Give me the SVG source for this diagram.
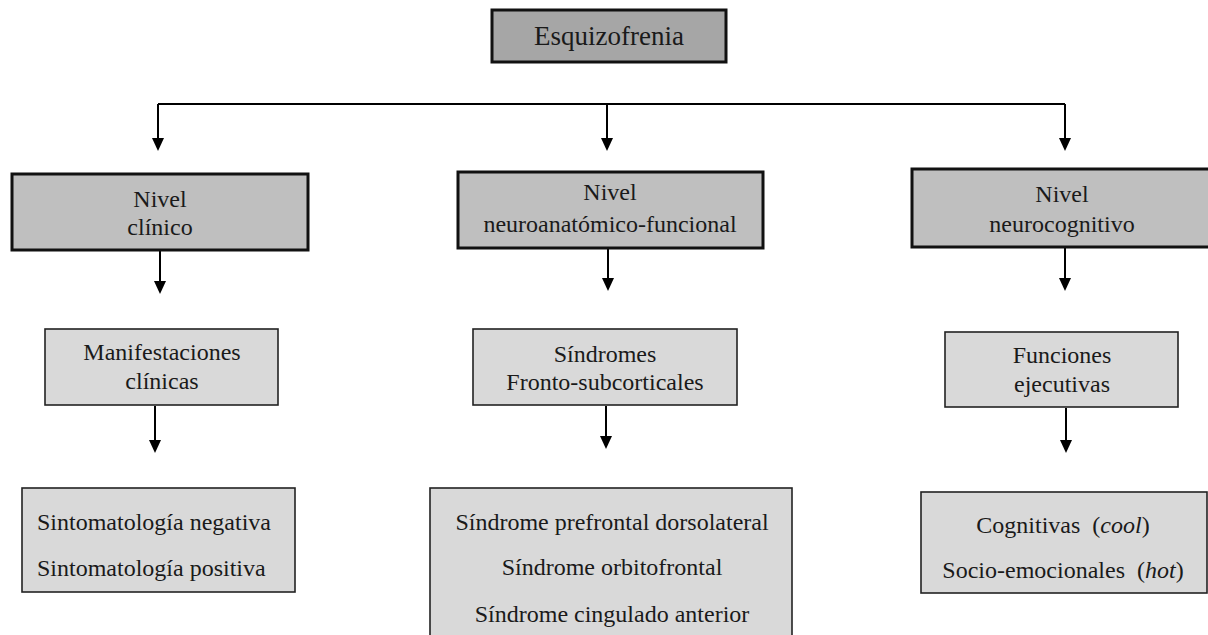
<svg xmlns="http://www.w3.org/2000/svg" width="1208" height="635" viewBox="0 0 1208 635">
  <rect width="1208" height="635" fill="#fff"/>

  <!-- connectors: lines plus filled arrowheads -->
  <g id="connectors">
    <g fill="none" stroke="#000" stroke-width="2">
      <path d="M158,104 H1065"/>
      <path d="M158,104 V140"/>
      <path d="M607,104 V140"/>
      <path d="M1065,104 V140"/>
      <path d="M160,251 V283"/>
      <path d="M608,249 V280"/>
      <path d="M1065,248 V280"/>
      <path d="M155,406 V442"/>
      <path d="M606,406 V438"/>
      <path d="M1066,408 V442"/>
    </g>
    <g fill="#000">
      <polygon points="152,138 164,138 158,151"/>
      <polygon points="601,138 613,138 607,151"/>
      <polygon points="1059,138 1071,138 1065,151"/>
      <polygon points="154,281 166,281 160,294"/>
      <polygon points="602,278 614,278 608,291"/>
      <polygon points="1059,278 1071,278 1065,291"/>
      <polygon points="149,440 161,440 155,453"/>
      <polygon points="600,436 612,436 606,449"/>
      <polygon points="1060,440 1072,440 1066,453"/>
    </g>
  </g>

  <!-- root -->
  <g id="esquizofrenia">
    <rect x="492" y="10" width="234" height="52" fill="#a6a6a6" stroke="#111" stroke-width="3"/>
    <text x="609" y="45" font-family="Liberation Serif" font-size="27" fill="#1a1a1a" text-anchor="middle">Esquizofrenia</text>
  </g>

  <!-- levels -->
  <g id="nivel-clinico">
    <rect x="12" y="174" width="296" height="76" fill="#bfbfbf" stroke="#111" stroke-width="3"/>
    <text x="160" y="207" font-family="Liberation Serif" font-size="24" fill="#1a1a1a" text-anchor="middle">Nivel</text>
    <text x="160" y="235" font-family="Liberation Serif" font-size="24" fill="#1a1a1a" text-anchor="middle">cl&#237;nico</text>
  </g>
  <g id="nivel-neuroanatomico">
    <rect x="458" y="172" width="305" height="76" fill="#bfbfbf" stroke="#111" stroke-width="3"/>
    <text x="610" y="200" font-family="Liberation Serif" font-size="24" fill="#1a1a1a" text-anchor="middle">Nivel</text>
    <text x="610" y="232" font-family="Liberation Serif" font-size="24" fill="#1a1a1a" text-anchor="middle">neuroanat&#243;mico-funcional</text>
  </g>
  <g id="nivel-neurocognitivo">
    <rect x="912" y="169" width="300" height="78" fill="#bfbfbf" stroke="#111" stroke-width="3"/>
    <text x="1062" y="202" font-family="Liberation Serif" font-size="24" fill="#1a1a1a" text-anchor="middle">Nivel</text>
    <text x="1062" y="232" font-family="Liberation Serif" font-size="24" fill="#1a1a1a" text-anchor="middle">neurocognitivo</text>
  </g>

  <!-- second tier -->
  <g id="manifestaciones">
    <rect x="45" y="329" width="233" height="76" fill="#d9d9d9" stroke="#222" stroke-width="1.6"/>
    <text x="162" y="360" font-family="Liberation Serif" font-size="24" fill="#1a1a1a" text-anchor="middle">Manifestaciones</text>
    <text x="162" y="389" font-family="Liberation Serif" font-size="24" fill="#1a1a1a" text-anchor="middle">cl&#237;nicas</text>
  </g>
  <g id="sindromes">
    <rect x="473" y="329" width="264" height="76" fill="#d9d9d9" stroke="#222" stroke-width="1.6"/>
    <text x="605" y="362" font-family="Liberation Serif" font-size="24" fill="#1a1a1a" text-anchor="middle">S&#237;ndromes</text>
    <text x="605" y="390" font-family="Liberation Serif" font-size="24" fill="#1a1a1a" text-anchor="middle">Fronto-subcorticales</text>
  </g>
  <g id="funciones">
    <rect x="945" y="332" width="233" height="75" fill="#d9d9d9" stroke="#222" stroke-width="1.6"/>
    <text x="1062" y="363" font-family="Liberation Serif" font-size="24" fill="#1a1a1a" text-anchor="middle">Funciones</text>
    <text x="1062" y="392" font-family="Liberation Serif" font-size="24" fill="#1a1a1a" text-anchor="middle">ejecutivas</text>
  </g>

  <!-- third tier -->
  <g id="sintomatologia">
    <rect x="22" y="488" width="273" height="104" fill="#d9d9d9" stroke="#222" stroke-width="1.6"/>
    <text x="37" y="530" font-family="Liberation Serif" font-size="24" fill="#1a1a1a">Sintomatolog&#237;a negativa</text>
    <text x="37" y="576" font-family="Liberation Serif" font-size="24" fill="#1a1a1a">Sintomatolog&#237;a positiva</text>
  </g>
  <g id="sindromes-frontales">
    <rect x="430" y="488" width="362" height="160" fill="#d9d9d9" stroke="#222" stroke-width="1.6"/>
    <text x="612" y="530" font-family="Liberation Serif" font-size="24" fill="#1a1a1a" text-anchor="middle">S&#237;ndrome prefrontal dorsolateral</text>
    <text x="612" y="575" font-family="Liberation Serif" font-size="24" fill="#1a1a1a" text-anchor="middle">S&#237;ndrome orbitofrontal</text>
    <text x="612" y="622" font-family="Liberation Serif" font-size="24" fill="#1a1a1a" text-anchor="middle">S&#237;ndrome cingulado anterior</text>
  </g>
  <g id="tipos-funciones">
    <rect x="921" y="492" width="286" height="101" fill="#d9d9d9" stroke="#222" stroke-width="1.6"/>
    <text x="1063" y="533" font-family="Liberation Serif" font-size="24" fill="#1a1a1a" text-anchor="middle">Cognitivas&#160; (<tspan font-style="italic">cool</tspan>)</text>
    <text x="1063" y="578" font-family="Liberation Serif" font-size="24" fill="#1a1a1a" text-anchor="middle">Socio-emocionales&#160; (<tspan font-style="italic">hot</tspan>)</text>
  </g>
</svg>
